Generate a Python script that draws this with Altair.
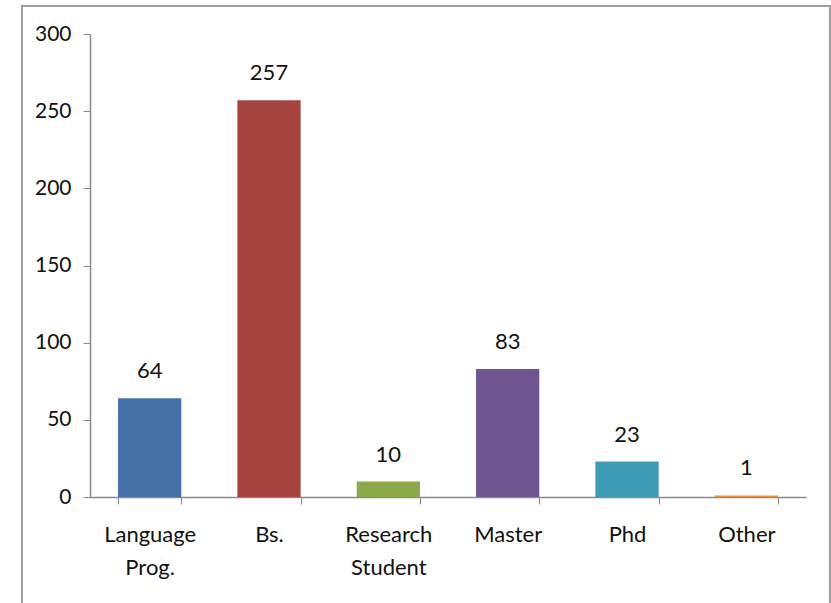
import altair as alt
import pandas as pd

categories = ["Language Prog.", "Bs.", "Research Student", "Master", "Phd", "Other"]
values = [64, 257, 10, 83, 23, 1]
colors = ["#4671A8", "#A8443F", "#8BA94B", "#6F5590", "#3C9CB5", "#E8923F"]
y_ticks = [0, 50, 100, 150, 200, 250, 300]

df = pd.DataFrame({"category": categories, "value": values})

FONT = "Lato"
AXIS_GRAY = "#8A8A8A"
TEXT = "#111111"

x_enc = alt.X(
    "category:N",
    sort=categories,
    title=None,
    scale=alt.Scale(paddingInner=0.47, paddingOuter=0.235),
    axis=alt.Axis(
        labelAngle=0,
        labelExpr="split(datum.label, ' ')",
        labelFont=FONT,
        labelFontSize=22,
        labelColor=TEXT,
        labelLineHeight=33,
        labelPadding=20,
        tickSize=7,
        tickColor=AXIS_GRAY,
        domainColor=AXIS_GRAY,
        domainWidth=1.5,
        tickBand="extent",
        grid=False,
    ),
)
y_enc = alt.Y(
    "value:Q",
    title=None,
    scale=alt.Scale(domain=[0, 300], nice=False),
    axis=alt.Axis(
        values=y_ticks,
        labelFont=FONT,
        labelFontSize=21,
        labelColor=TEXT,
        labelPadding=12,
        tickSize=7,
        tickColor=AXIS_GRAY,
        domainColor=AXIS_GRAY,
        domainWidth=1.5,
        grid=False,
    ),
)

bars = alt.Chart(df).mark_bar().encode(
    x=x_enc,
    y=y_enc,
    color=alt.Color("category:N", sort=categories,
                    scale=alt.Scale(domain=categories, range=colors), legend=None),
)

labels = alt.Chart(df).mark_text(
    font=FONT, fontSize=22, color=TEXT, baseline="alphabetic", dy=-20
).encode(
    x=alt.X("category:N", sort=categories),
    y=alt.Y("value:Q"),
    text=alt.Text("value:Q"),
)

border = alt.Chart(pd.DataFrame({"a": [0]})).mark_rect(
    fill=None, stroke="#9E9E9E", strokeWidth=2, clip=False
).encode(
    x=alt.value(-68), x2=alt.value(740), y=alt.value(-28), y2=alt.value(620)
)

chart = alt.layer(border, bars, labels).properties(
    width=716,
    height=463,
    padding={"left": 90, "top": 34, "right": 25, "bottom": 106},
    autosize=alt.AutoSizeParams(type="none"),
    background="white",
).configure_view(stroke=None)

chart.save("out.html", embed_options={"renderer": "svg", "actions": False})
